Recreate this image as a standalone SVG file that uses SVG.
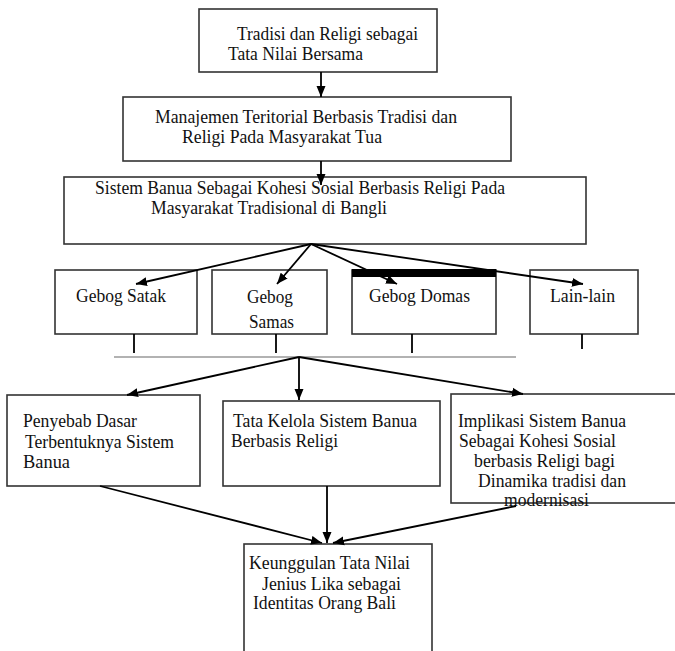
<svg xmlns="http://www.w3.org/2000/svg" width="675" height="651" viewBox="0 0 675 651">
<defs>
<marker id="ah" markerUnits="userSpaceOnUse" markerWidth="12" markerHeight="10" refX="11" refY="5" orient="auto">
<path d="M0,0.5 L11,5 L0,9.5 Z" fill="#000"/>
</marker>
<style>
.box{fill:#fff;stroke:#333;stroke-width:1.6}
.t{font-family:'Liberation Serif','Times New Roman','DejaVu Serif',serif;font-size:19px;fill:#111}
.c{stroke:#000;stroke-width:1.8;fill:none}
.ca{stroke:#000;stroke-width:1.8;fill:none;marker-end:url(#ah)}
.g{stroke:#999;stroke-width:1.6;fill:none}
</style>
</defs>
<rect width="675" height="651" fill="#fff"/>

<g id="n1">
<rect class="box" x="199" y="9" width="238" height="63"/>
<text class="t" x="237" y="40" textLength="181" lengthAdjust="spacingAndGlyphs">Tradisi dan Religi sebagai</text>
<text class="t" x="228" y="60" textLength="135" lengthAdjust="spacingAndGlyphs">Tata Nilai Bersama</text>
</g>

<g id="n2">
<rect class="box" x="123" y="97" width="388" height="64"/>
<text class="t" x="155" y="123" textLength="302" lengthAdjust="spacingAndGlyphs">Manajemen Teritorial Berbasis Tradisi dan</text>
<text class="t" x="182" y="143" textLength="200" lengthAdjust="spacingAndGlyphs">Religi Pada Masyarakat Tua</text>
</g>

<g id="n3">
<rect class="box" x="64" y="177" width="522" height="67"/>
<text class="t" x="95" y="194" textLength="410" lengthAdjust="spacingAndGlyphs">Sistem Banua Sebagai Kohesi Sosial Berbasis Religi Pada</text>
<text class="t" x="151" y="214" textLength="236" lengthAdjust="spacingAndGlyphs">Masyarakat Tradisional di Bangli</text>
</g>

<g id="n4">
<rect class="box" x="55" y="270" width="142" height="64"/>
<text class="t" x="76" y="302" textLength="90" lengthAdjust="spacingAndGlyphs">Gebog Satak</text>
</g>

<g id="n5">
<rect class="box" x="212" y="270" width="115" height="64"/>
<text class="t" x="247" y="303" textLength="46" lengthAdjust="spacingAndGlyphs">Gebog</text>
<text class="t" x="249" y="328" textLength="45" lengthAdjust="spacingAndGlyphs">Samas</text>
</g>

<g id="n6">
<rect class="box" x="352" y="270" width="144" height="64"/>
<rect x="352" y="269" width="144" height="8" fill="#000"/>
<text class="t" x="369" y="302" textLength="101" lengthAdjust="spacingAndGlyphs">Gebog Domas</text>
</g>

<g id="n7">
<rect class="box" x="530" y="270" width="108" height="64"/>
<text class="t" x="550" y="302" textLength="65" lengthAdjust="spacingAndGlyphs">Lain-lain</text>
</g>

<g id="n8">
<rect class="box" x="7" y="395" width="193" height="91"/>
<text class="t" x="23" y="427" textLength="114" lengthAdjust="spacingAndGlyphs">Penyebab Dasar</text>
<text class="t" x="25" y="448" textLength="149" lengthAdjust="spacingAndGlyphs">Terbentuknya Sistem</text>
<text class="t" x="23" y="468" textLength="47" lengthAdjust="spacingAndGlyphs">Banua</text>
</g>

<g id="n9">
<rect class="box" x="223" y="401" width="217" height="85"/>
<text class="t" x="233" y="427" textLength="184" lengthAdjust="spacingAndGlyphs">Tata Kelola Sistem Banua</text>
<text class="t" x="231" y="447" textLength="107" lengthAdjust="spacingAndGlyphs">Berbasis Religi</text>
</g>

<g id="n10">
<rect class="box" x="451" y="394" width="240" height="109"/>
<text class="t" x="458" y="427" textLength="168" lengthAdjust="spacingAndGlyphs">Implikasi Sistem Banua</text>
<text class="t" x="459" y="447" textLength="157" lengthAdjust="spacingAndGlyphs">Sebagai Kohesi Sosial</text>
<text class="t" x="474" y="467" textLength="141" lengthAdjust="spacingAndGlyphs">berbasis Religi bagi</text>
<text class="t" x="478" y="487" textLength="148" lengthAdjust="spacingAndGlyphs">Dinamika tradisi dan</text>
<text class="t" x="504" y="506" textLength="85" lengthAdjust="spacingAndGlyphs">modernisasi</text>
</g>

<g id="n11">
<rect class="box" x="244" y="544" width="188" height="130"/>
<text class="t" x="249" y="569" textLength="161" lengthAdjust="spacingAndGlyphs">Keunggulan Tata Nilai</text>
<text class="t" x="262" y="590" textLength="139" lengthAdjust="spacingAndGlyphs">Jenius Lika sebagai</text>
<text class="t" x="253" y="609" textLength="143" lengthAdjust="spacingAndGlyphs">Identitas Orang Bali</text>
</g>

<g id="connectors">
<line class="ca" x1="321" y1="72" x2="321" y2="97"/>
<line class="ca" x1="321" y1="161" x2="321" y2="185"/>
<line class="ca" x1="311" y1="244" x2="136" y2="284"/>
<line class="ca" x1="311" y1="244" x2="277" y2="284"/>
<line class="ca" x1="311" y1="244" x2="397" y2="284"/>
<line class="ca" x1="311" y1="244" x2="583" y2="284"/>
<line class="c" x1="134" y1="334" x2="134" y2="353"/>
<line class="c" x1="276" y1="334" x2="276" y2="353"/>
<line class="c" x1="412" y1="334" x2="412" y2="353"/>
<line class="c" x1="582" y1="334" x2="582" y2="349"/>
<line class="g" x1="114" y1="357" x2="516" y2="357"/>
<line class="ca" x1="299" y1="357" x2="127" y2="395"/>
<line class="ca" x1="299" y1="357" x2="299" y2="400"/>
<line class="ca" x1="299" y1="357" x2="523" y2="394"/>
<line class="ca" x1="100" y1="486" x2="322" y2="543"/>
<line class="ca" x1="327" y1="486" x2="327" y2="543"/>
<line class="ca" x1="516" y1="506" x2="333" y2="543"/>
</g>
</svg>
